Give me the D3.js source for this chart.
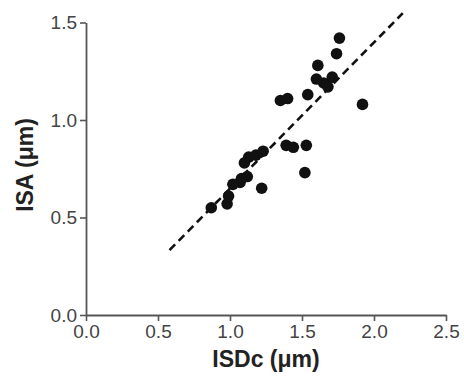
<!DOCTYPE html>
<html>
<head>
<meta charset="utf-8">
<script src="https://cdn.jsdelivr.net/npm/d3@7"></script>
<style>
  body { margin: 0; background: #fff; }
  svg { display: block; font-family: "Liberation Sans", Arial, sans-serif; }
</style>
</head>
<body>
<svg id="chart" width="464" height="386"></svg>
<script>
const isdc = [0.87, 0.98, 0.99, 1.02, 1.07, 1.08, 1.12, 1.22, 1.10, 1.13, 1.18, 1.23,
  1.35, 1.40, 1.54, 1.39, 1.44, 1.53, 1.52, 1.92, 1.61, 1.60, 1.65, 1.71, 1.68, 1.74, 1.76];
const isa = [0.55, 0.57, 0.61, 0.67, 0.68, 0.70, 0.71, 0.65, 0.78, 0.81, 0.82, 0.84,
  1.10, 1.11, 1.13, 0.87, 0.86, 0.87, 0.73, 1.08, 1.28, 1.21, 1.19, 1.22, 1.17, 1.34, 1.42];

// dashed fit line endpoints
const fitX = [0.58, 2.2];
const fitY = [0.333, 1.548];

const xTicks = [0, 0.5, 1.0, 1.5, 2.0, 2.5];
const yTicks = [0, 0.5, 1.0, 1.5];

const svg = d3.select("#chart");

let marginLeft = 86, marginRight = 446, marginTop = 22.5, marginBottom = 315;

const x = d3.scaleLinear().domain([0, 2.5]).range([marginLeft, marginRight]);
const y = d3.scaleLinear().domain([0, 1.5]).range([marginBottom, marginTop]);

const axisColor = "#555";

// x axis
const gx = svg.append("g")
  .attr("transform", `translate(0,${marginBottom})`)
  .call(d3.axisBottom(x).tickValues(xTicks).tickFormat(d3.format(".1f")).tickSize(6).tickSizeOuter(0).tickPadding(4));

// y axis
const gy = svg.append("g")
  .attr("transform", `translate(${marginLeft},0)`)
  .call(d3.axisLeft(y).tickValues(yTicks).tickFormat(d3.format(".1f")).tickSize(6).tickSizeOuter(0).tickPadding(3));

[gx, gy].forEach(g => {
  g.select(".domain").attr("stroke", axisColor).attr("stroke-width", 1.8);
  g.selectAll(".tick line").attr("stroke", axisColor).attr("stroke-width", 1.6);
  g.selectAll(".tick text")
    .attr("fill", "#444")
    .style("font-size", "19px")
    .style("font-family", "Liberation Sans, Arial, sans-serif");
});

// axis titles
svg.append("text")
  .attr("x", 266)
  .attr("y", 367)
  .attr("text-anchor", "middle")
  .attr("fill", "#222")
  .style("font-size", "23px")
  .style("font-weight", "bold")
  .text("ISDc (\u03bcm)");

svg.append("text")
  .attr("transform", "translate(33,165) rotate(-90)")
  .attr("text-anchor", "middle")
  .attr("fill", "#222")
  .style("font-size", "23px")
  .style("font-weight", "bold")
  .text("ISA (\u03bcm)");

// dashed line
svg.append("path")
  .datum(d3.zip(fitX, fitY))
  .attr("fill", "none")
  .attr("stroke", "#111")
  .attr("stroke-width", 2.6)
  .attr("stroke-dasharray", "8,5")
  .attr("d", d3.line().x(d => x(d[0])).y(d => y(d[1])));

// points
svg.append("g")
  .selectAll("circle")
  .data(d3.zip(isdc, isa))
  .enter()
  .append("circle")
  .attr("cx", d => x(d[0]))
  .attr("cy", d => y(d[1]))
  .attr("r", 5.8)
  .attr("fill", "#111");
</script>
</body>
</html>
